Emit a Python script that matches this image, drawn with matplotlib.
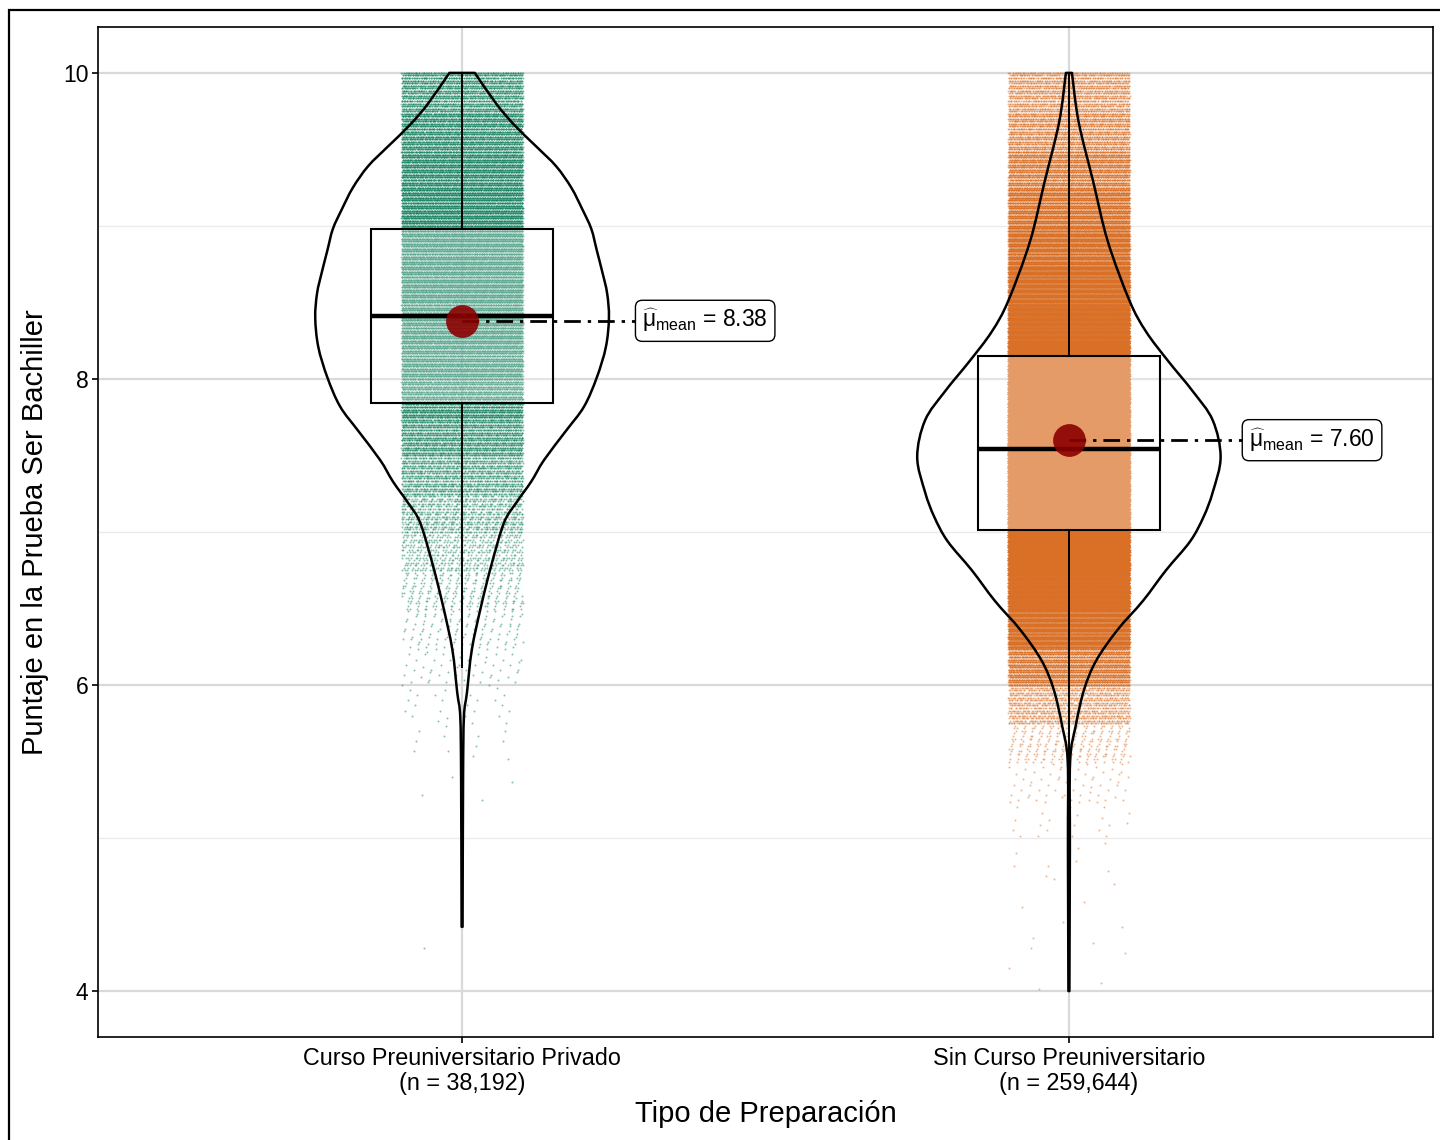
import numpy as np
import matplotlib
matplotlib.use("Agg")
from matplotlib import pyplot as plt
from matplotlib.patches import Rectangle, PathPatch
from matplotlib.path import Path

plt.rcParams['font.family'] = ['Liberation Sans', 'DejaVu Sans']
plt.rcParams['mathtext.fontset'] = 'custom'
plt.rcParams['mathtext.rm'] = 'Liberation Sans'
plt.rcParams['mathtext.it'] = 'Liberation Sans'
plt.rcParams['mathtext.fallback'] = 'cm'

# ---- data ----
group_labels = ["Curso Preuniversitario Privado\n(n = 38,192)",
                "Sin Curso Preuniversitario\n(n = 259,644)"]
group_colors = ["#14825F", "#DA7026"]
means = [8.38, 7.60]

# box stats: lower whisker, q1, median, q3, upper whisker
box_lo = [6.12, 5.30]
box_q1 = [7.84, 7.01]
box_med = [8.41, 7.54]
box_q3 = [8.98, 8.15]
box_hi = [10.0, 10.0]

# violin outline (score, half width in x units)
v1_score = [4.42, 5.38, 5.79, 5.95, 6.23, 6.51, 6.78, 7.06, 7.19, 7.33, 7.47, 7.66, 7.82,
            8.01, 8.21, 8.40, 8.56, 8.70, 8.84, 8.98, 9.11, 9.25, 9.39, 9.52, 9.66, 9.80, 10.0]
v1_half = [0.0008, 0.0016, 0.003, 0.008, 0.016, 0.031, 0.048, 0.069, 0.089, 0.114, 0.135,
           0.171, 0.201, 0.222, 0.237, 0.242, 0.239, 0.231, 0.222, 0.213, 0.198, 0.180,
           0.155, 0.122, 0.086, 0.056, 0.021]
v2_score = [4.00, 4.93, 5.50, 5.73, 5.97, 6.16, 6.36, 6.55, 6.75, 6.94, 7.10, 7.26, 7.49,
            7.73, 7.92, 8.12, 8.31, 8.51, 8.90, 9.29, 9.68, 10.0]
v2_half = [0.0008, 0.0016, 0.002, 0.011, 0.025, 0.045, 0.080, 0.122, 0.160, 0.200, 0.222,
           0.237, 0.250, 0.237, 0.204, 0.163, 0.127, 0.100, 0.064, 0.040, 0.016, 0.005]

# jittered raw scores summarised as counts per 0.25 bin (4.00 .. 9.75)
bin_lower = [4.00, 4.25, 4.50, 4.75, 5.00, 5.25, 5.50, 5.75, 6.00, 6.25, 6.50, 6.75,
             7.00, 7.25, 7.50, 7.75, 8.00, 8.25, 8.50, 8.75, 9.00, 9.25, 9.50, 9.75]
counts1 = [0, 1, 0, 0, 0, 4, 12, 25, 60, 120, 260, 520,
           900, 1500, 2200, 3000, 3700, 4100, 4200, 4100, 3900, 3500, 3000, 2400]
counts2 = [3, 6, 4, 8, 25, 60, 250, 1200, 4000, 10000, 18000, 26000,
           32000, 35000, 34000, 30000, 23000, 16000, 11000, 7500, 5200, 3500, 2200, 1800]


def jitter_points(center, counts):
    # spread each bin's points over score rows with a 2-D low-discrepancy sequence
    xs, ys = [], []
    for b, (lower, c) in enumerate(zip(bin_lower, counts)):
        nrows = 15 if lower < 9.75 else 16
        i = np.arange(1, c + 1) + 37 * b
        fx = (0.5 + i * 0.7548776662) % 1.0
        fy = (0.5 + i * 0.5698402910) % 1.0
        row = np.floor(fy * nrows)
        xs.append(center + (2 * fx - 1) * 0.1)
        ys.append(lower + row * (0.25 / 15))
    return np.concatenate(xs), np.concatenate(ys)


def smooth_outline(px, py):
    # Catmull-Rom through the points, drawn as cubic Bezier segments
    pts = np.column_stack([px, py])
    verts = [pts[0]]
    codes = [Path.MOVETO]
    n = len(pts)
    for j in range(n - 1):
        p0 = pts[max(j - 1, 0)]
        p1 = pts[j]
        p2 = pts[j + 1]
        p3 = pts[min(j + 2, n - 1)]
        verts += [p1 + (p2 - p0) / 6, p2 - (p3 - p1) / 6, p2]
        codes += [Path.CURVE4] * 3
    return verts, codes


fig = plt.figure(figsize=(14.4, 11.4), dpi=100)
ax = fig.add_axes([98 / 1440, 1 - 1037 / 1140, 1335 / 1440, 1010 / 1140])

for y in [5, 7, 9]:
    ax.axhline(y, color="#EBEBEB", lw=1.0, zorder=0)
for y in [4, 6, 8, 10]:
    ax.axhline(y, color="#D9D9D9", lw=1.6, zorder=0)
for x in [1, 2]:
    ax.axvline(x, color="#D9D9D9", lw=1.6, zorder=0)

violins = [(v1_score, v1_half), (v2_score, v2_half)]
all_counts = [counts1, counts2]

for k in range(2):
    pos = k + 1
    px, py = jitter_points(pos, all_counts[k])
    ax.scatter(px, py, s=2.0, color=group_colors[k], alpha=0.5, linewidths=0, zorder=2)

    sc, hw = np.array(violins[k][0]), np.array(violins[k][1])
    lv, lc = smooth_outline(pos - hw, sc)
    rv, rc = smooth_outline((pos + hw)[::-1], sc[::-1])
    verts = lv + rv + [lv[0]]
    codes = lc + [Path.LINETO] + rc[1:] + [Path.CLOSEPOLY]
    ax.add_patch(PathPatch(Path(verts, codes), fill=False, ec="black", lw=1.8, zorder=3,
                           joinstyle='round'))

    # whiskers
    ax.plot([pos, pos], [box_lo[k], box_q1[k]], color="black", lw=1.4, zorder=3)
    ax.plot([pos, pos], [box_q3[k], box_hi[k]], color="black", lw=1.4, zorder=3)
    # box
    ax.add_patch(Rectangle((pos - 0.15, box_q1[k]), 0.3, box_q3[k] - box_q1[k],
                           facecolor=(1, 1, 1, 0.3), edgecolor="black", lw=1.5, zorder=4))
    ax.plot([pos - 0.15, pos + 0.15], [box_med[k], box_med[k]], color="black", lw=3.2,
            zorder=4, solid_capstyle='butt')

    # mean point and label
    ax.plot([pos, pos + 0.285], [means[k], means[k]], color="black", lw=2.0,
            linestyle=(0, (6, 2.5, 1.2, 2.5)), zorder=5)
    ax.plot(pos, means[k], 'o', ms=23, color="#8B0000", alpha=0.9, mec="#8B0000",
            mew=0.5, zorder=6)
    ax.text(pos + 0.297, means[k], r"$\widehat{\mu}_{\mathrm{mean}}$ = %.2f" % means[k],
            fontsize=16.5, ha="left", va="center", zorder=7,
            bbox=dict(boxstyle="round,pad=0.3,rounding_size=0.3", fc="white",
                      ec="black", lw=1.0))

ax.set_xlim(0.4, 2.6)
ax.set_ylim(3.7, 10.3)
ax.set_xticks([1, 2])
ax.set_xticklabels(group_labels, fontsize=16.8, linespacing=1.1)
ax.set_yticks([4, 6, 8, 10])
ax.set_yticklabels(["4", "6", "8", "10"], fontsize=16.5)
ax.tick_params(length=4, width=1.2, color="black", pad=3)
for s in ax.spines.values():
    s.set_linewidth(1.2)
    s.set_color("black")

ax.set_xlabel("Tipo de Preparación", fontsize=21, labelpad=4)
ax.set_ylabel("Puntaje en la Prueba Ser Bachiller", fontsize=21, labelpad=10)

fig.patches.append(Rectangle((9 / 1440, -0.05), 1.2, 1 - 10 / 1140 + 0.05,
                             transform=fig.transFigure, fill=False, ec="black", lw=1.6))

fig.savefig("out.png", dpi=100)
